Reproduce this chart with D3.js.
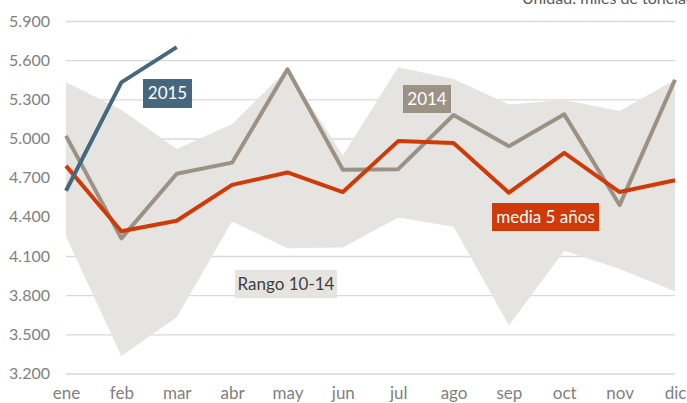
<!DOCTYPE html>
<html lang="es">
<head>
    <meta charset="UTF-8">
    <title>Rango 10-14</title>
    <script src="https://d3js.org/d3.v7.min.js"></script>
    <style>
        body {margin: 0; background: #fff;}
        text {font-family: Lato, "Open Sans", sans-serif;}
        .tick text {fill: #7f7f7f; font-size: 16px;}
        .xaxis .tick text {font-size: 17px;}
    </style>
</head>
<body>
<script>
    const width = 687;
    const height = 403;

    // data (miles de toneladas)
    const months   = ["ene","feb","mar","abr","may","jun","jul","ago","sep","oct","nov","dic"];
    const rangeMax = [5430, 5220, 4920, 5110, 5530, 4870, 5545, 5455, 5260, 5295, 5210, 5450];
    const rangeMin = [4250, 3335, 3630, 4365, 4160, 4165, 4395, 4325, 3570, 4140, 4000, 3830];
    const avg5     = [4790, 4290, 4370, 4645, 4740, 4590, 4980, 4965, 4585, 4890, 4590, 4680];
    const y2014    = [5020, 4235, 4730, 4815, 5530, 4760, 4765, 5180, 4940, 5185, 4490, 5450];
    const y2015    = [4600, 5430, 5700];
    const yTicks   = [3200, 3500, 3800, 4100, 4400, 4700, 5000, 5300, 5600, 5900];

    const colors = {band: "#e6e4e0", avg: "#cf3a08", y2014: "#9b9184", y2015: "#46687e", grid: "#d9d9d9"};

    const svg = d3.select("body").append("svg")
            .attr("width", width).attr("height", height);

    const x = d3.scalePoint().domain(months).range([66, 675]);
    const y = d3.scaleLinear().domain([3200, 5900]).range([373.5, 21]);

    const es = d3.formatLocale({decimal: ",", thousands: ".", grouping: [3], currency: ["", "€"]});

    // gridlines + y labels
    const yAxis = svg.append("g")
            .attr("transform", "translate(66,0)")
            .call(d3.axisLeft(y).tickValues(yTicks).tickFormat(es.format(",")).tickSize(-(675 - 66)).tickPadding(16));
    yAxis.select(".domain").remove();
    yAxis.selectAll(".tick line").style("stroke", colors.grid).style("stroke-width", 1.4);

    // band
    const band = d3.area()
            .x((d, i) => x(months[i]))
            .y0((d, i) => y(rangeMin[i]))
            .y1(d => y(d));
    svg.append("path").datum(rangeMax)
            .attr("d", band)
            .style("fill", colors.band);

    // x labels
    const xAxis = svg.append("g")
            .attr("class", "xaxis")
            .attr("transform", "translate(0,374)")
            .call(d3.axisBottom(x).tickSize(0).tickPadding(25));
    xAxis.select(".domain").remove();
    xAxis.selectAll(".tick text").attr("dy", "0");

    const line = d3.line()
            .x((d, i) => x(months[i]))
            .y(d => y(d));

    function drawLine(values, color) {
        svg.append("path").datum(values)
                .attr("d", line)
                .style("fill", "none")
                .style("stroke", color)
                .style("stroke-width", 4)
                .style("stroke-linejoin", "round");
    }
    drawLine(y2014, colors.y2014);
    drawLine(avg5, colors.avg);
    drawLine(y2015, colors.y2015);

    // labels
    function label(txt, x0, y0, w, h, fill, color) {
        const g = svg.append("g").attr("transform", `translate(${x0},${y0})`);
        g.append("rect").attr("width", w).attr("height", h).style("fill", fill);
        g.append("text").attr("x", w / 2).attr("y", h / 2).attr("dy", "0.35em")
                .attr("text-anchor", "middle")
                .style("font-size", "17px")
                .style("fill", color)
                .text(txt);
    }
    label("2015", 143, 79, 49, 29, colors.y2015, "#fff");
    label("2014", 403, 85, 48, 28, colors.y2014, "#fff");
    label("media 5 años", 492, 203, 107, 28, colors.avg, "#fff");
    label("Rango 10-14", 235, 270, 102, 28, colors.band, "#404040");

    svg.append("text")
            .attr("x", 522).attr("y", 4)
            .style("font-size", "16px")
            .style("fill", "#595959")
            .text("Unidad: miles de toneladas");
</script>
</body>
</html>
